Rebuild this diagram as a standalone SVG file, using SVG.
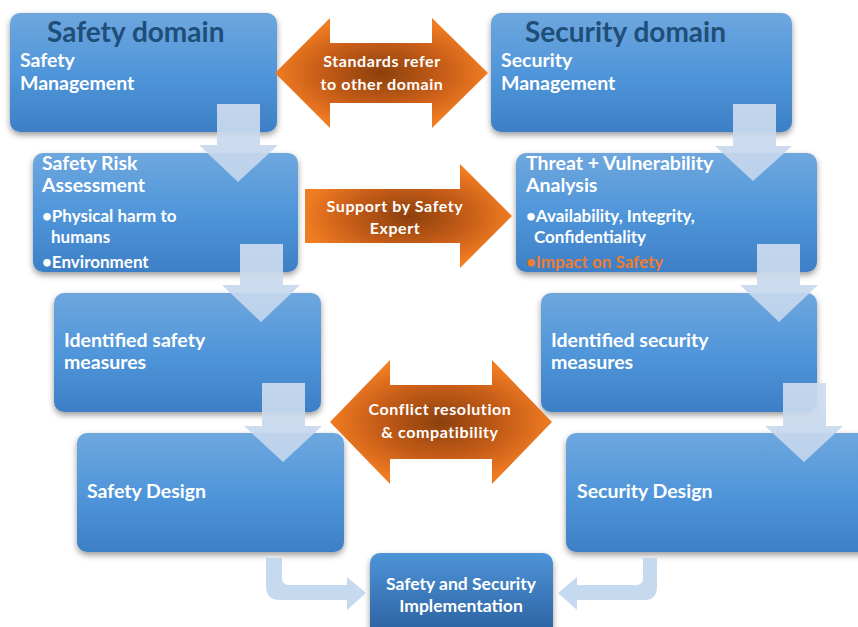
<svg xmlns="http://www.w3.org/2000/svg" width="858" height="627" viewBox="0 0 858 627">
<defs>
<linearGradient id="gBox" x1="0" y1="0" x2="0" y2="1">
<stop offset="0" stop-color="#6ea7de"/>
<stop offset="0.5" stop-color="#5096da"/>
<stop offset="1" stop-color="#3d7fc6"/>
</linearGradient>
<linearGradient id="gImpl" x1="0" y1="0" x2="0" y2="1">
<stop offset="0" stop-color="#4e94d8"/>
<stop offset="1" stop-color="#2a5f9e"/>
</linearGradient>
<radialGradient id="gOr" cx="50%" cy="50%" r="50%">
<stop offset="0" stop-color="#8c400d"/>
<stop offset="0.6" stop-color="#c85e18"/>
<stop offset="1" stop-color="#f07c22"/>
</radialGradient>
<linearGradient id="gDown" x1="0" y1="0" x2="0" y2="1">
<stop offset="0" stop-color="#cddcef"/>
<stop offset="1" stop-color="#c3d5ec"/>
</linearGradient>
<filter id="sh" x="-10%" y="-10%" width="120%" height="130%">
<feDropShadow dx="0" dy="3" stdDeviation="3" flood-color="#000" flood-opacity="0.4"/>
</filter>
</defs>
<style>
.box{fill:url(#gBox);filter:url(#sh)}
.impl{fill:url(#gImpl);filter:url(#sh)}
.t{font-family:Lato,"Open Sans","Liberation Sans",sans-serif;font-weight:bold;fill:#ffffff;font-size:19.5px}
.s{font-size:17px}
.h{font-family:Lato,"Open Sans","Liberation Sans",sans-serif;font-weight:bold;fill:#1f4e79;font-size:28px}
.o{font-family:Lato,"Open Sans","Liberation Sans",sans-serif;font-weight:bold;fill:#ffffff;font-size:16px;letter-spacing:0.6px;text-anchor:middle}
.or{fill:url(#gOr)}
.dn{fill:url(#gDown);opacity:0.92}
.bent{fill:#bcd3ec;opacity:0.85}
.imp{fill:#ed7d31}
</style>
<rect width="858" height="627" fill="#ffffff"/>
<g id="safety-management">
<rect class="box" x="10" y="13" width="267" height="119" rx="10"/>
<text class="h" x="47" y="42">Safety domain</text>
<text class="t" x="20" y="67">Safety</text>
<text class="t" x="20" y="90">Management</text>
</g>
<g id="security-management">
<rect class="box" x="491" y="13" width="301" height="119" rx="10"/>
<text class="h" x="525" y="42">Security domain</text>
<text class="t" x="501" y="67">Security</text>
<text class="t" x="501" y="90">Management</text>
</g>
<g id="safety-risk">
<rect class="box" x="33" y="153" width="265" height="119" rx="10"/>
<text class="t" x="42" y="170">Safety Risk</text>
<text class="t" x="42" y="192">Assessment</text>
<text class="t s" x="42" y="222">•Physical harm to</text>
<text class="t s" x="51" y="243">humans</text>
<text class="t s" x="42" y="268">•Environment</text>
</g>
<g id="threat-analysis">
<rect class="box" x="516" y="153" width="301" height="119" rx="10"/>
<text class="t" x="526" y="170">Threat + Vulnerability</text>
<text class="t" x="526" y="192">Analysis</text>
<text class="t s" x="526" y="222">•Availability, Integrity,</text>
<text class="t s" x="534" y="243">Confidentiality</text>
<text class="t s imp" x="526" y="268">•Impact on Safety</text>
</g>
<g id="safety-measures">
<rect class="box" x="54" y="293" width="267" height="119" rx="10"/>
<text class="t" x="64" y="347">Identified safety</text>
<text class="t" x="64" y="369">measures</text>
</g>
<g id="security-measures">
<rect class="box" x="541" y="293" width="276" height="119" rx="10"/>
<text class="t" x="551" y="347">Identified security</text>
<text class="t" x="551" y="369">measures</text>
</g>
<g id="safety-design">
<rect class="box" x="77" y="433" width="267" height="119" rx="10"/>
<text class="t" x="87" y="498">Safety Design</text>
</g>
<g id="security-design">
<rect class="box" x="566" y="433" width="310" height="119" rx="10"/>
<text class="t" x="577" y="498">Security Design</text>
</g>
<g id="implementation">
<rect class="impl" x="370" y="553" width="183" height="84" rx="10"/>
<text class="o" style="font-size:17.5px;letter-spacing:0" x="461" y="590">Safety and Security</text>
<text class="o" style="font-size:17.5px;letter-spacing:0" x="461" y="612">Implementation</text>
</g>
<g id="connectors">
<polygon class="dn" points="217,104 260,104 260,145 278,145 238,182 199,145 217,145"/>
<polygon class="dn" points="240,244 283,244 283,285 300,285 261,322 222,285 240,285"/>
<polygon class="dn" points="262,383 305,383 305,426 322,426 283,462 244,426 262,426"/>
<polygon class="dn" points="733,104 776,104 776,146 792,146 753,181 715,146 733,146"/>
<polygon class="dn" points="757,244 800,244 800,285 818,285 779,322 740,285 757,285"/>
<polygon class="dn" points="783,383 826,383 826,426 843,426 804,462 765,426 783,426"/>
<path class="bent" d="M266,558 H282 V578 Q282,585 289,585 H347 V577 L366,593 L347,610 V600 H280 Q266,600 266,586 Z"/>
<path class="bent" d="M657,558 H643 V578 Q643,585 636,585 H577 V577 L558,593 L577,610 V600 H645 Q657,600 657,586 Z"/>
<polygon class="or" points="275,73 330,18 330,43 432,43 432,18 488,73 432,128 432,103 330,103 330,128"/>
<text class="o" x="382" y="67">Standards refer</text>
<text class="o" x="382" y="90">to other domain</text>
<polygon class="or" points="305,189 460,189 460,164 512,216 460,268 460,243 305,243"/>
<text class="o" x="395" y="212">Support by Safety</text>
<text class="o" x="395" y="234">Expert</text>
<polygon class="or" points="330,422 390,360 390,385 492,385 492,360 552,422 492,484 492,459 390,459 390,484"/>
<text class="o" x="440" y="415">Conflict resolution</text>
<text class="o" x="440" y="438">&amp; compatibility</text>
</g>
</svg>
